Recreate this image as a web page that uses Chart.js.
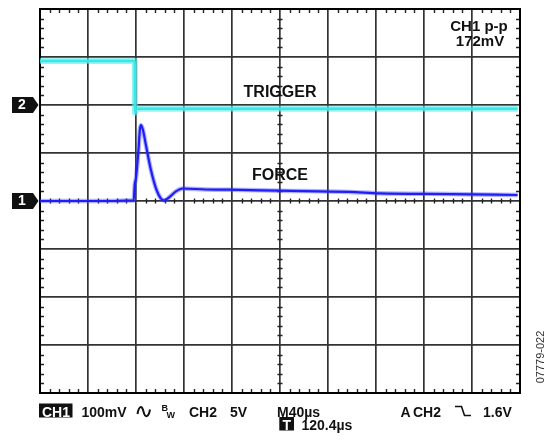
<!DOCTYPE html>
<html>
<head>
<meta charset="utf-8">
<script src="https://cdn.jsdelivr.net/npm/chart.js@4.4.1/dist/chart.umd.min.js"></script>
<style>
  html, body { margin: 0; padding: 0; background: #fff; }
  canvas { display: block; }
</style>
</head>
<body>
<canvas id="scope" width="550" height="442"></canvas>
<script>
// DATA (time in us from trigger, CH1 in mV, CH2 in V)

var ch1Time = [-80, -60, -40, -20, -8, -2, -1, 0, 2, 3.3, 4.2, 5.8, 8.3, 12.5, 16.7, 20.8, 23.6, 27.8, 33.3, 38.9, 58, 78, 120, 178, 203, 262, 318];
var ch1Force = [0, 0, 0, 0, 1, 1, 35, 48, 105, 150, 158, 148, 116, 64, 26, 5, 1.5, 8, 20, 26, 24, 23.5, 21.5, 19, 16, 14.5, 12.5];

var ch2Time = [-80, -1, -0.9, 0.5, 318];
var ch2Trigger = [4.58, 4.58, -0.8, -0.39, -0.39];

var timeTicks = [-80, 320, 40];   // min, max, step (M40us per div)
var ch1Ticks = [-400, 400, 100];  // 100mV per div
var ch2Range = [-30, 10];         // 5V per div, ground 2 div above centre

function pts(xs, ys) {
  return xs.map(function(x, i){ return {x: x, y: ys[i]}; });
}

var FONT = '"Liberation Sans", Arial, Helvetica, sans-serif';

// frame, minor ticks, channel markers and readouts
var scopeDecor = {
  id: 'scopeDecor',
  beforeDatasetsDraw: function(chart) {
    var c = chart.ctx, a = chart.chartArea;
    var sx = chart.scales.x, sy = chart.scales.y;
    var cx = sx.getPixelForValue(120), cy = sy.getPixelForValue(0);
    c.save();
    c.strokeStyle = '#222';
    c.lineWidth = 1.4;
    c.beginPath();
    for (var t = timeTicks[0]; t <= timeTicks[1]; t += 8) {
      if (t % 40 === 0) continue;
      var px = Math.round(sx.getPixelForValue(t)) + 0.5;
      c.moveTo(px, a.top); c.lineTo(px, a.top + 4);
      c.moveTo(px, a.bottom); c.lineTo(px, a.bottom - 4);
      c.moveTo(px, cy - 2.5); c.lineTo(px, cy + 2.5);
    }
    for (var v = ch1Ticks[0]; v <= ch1Ticks[1]; v += 20) {
      if (v % 100 === 0) continue;
      var py = Math.round(sy.getPixelForValue(v)) + 0.5;
      c.moveTo(a.left, py); c.lineTo(a.left + 4, py);
      c.moveTo(a.right, py); c.lineTo(a.right - 4, py);
      c.moveTo(cx - 2.5, py); c.lineTo(cx + 2.5, py);
    }
    c.stroke();
    c.strokeStyle = '#000';
    c.lineWidth = 2;
    c.strokeRect(a.left, a.top, a.right - a.left, a.bottom - a.top);
    c.restore();
  },
  afterDraw: function(chart) {
    var c = chart.ctx;
    var y1 = chart.scales.y.getPixelForValue(0);
    var y2 = chart.scales.y2.getPixelForValue(0);
    c.save();

    // ground markers
    [[y2, '2'], [y1, '1']].forEach(function(m) {
      var y = m[0];
      c.fillStyle = '#111';
      c.beginPath();
      c.moveTo(12, y - 8); c.lineTo(33, y - 8); c.lineTo(38.5, y);
      c.lineTo(33, y + 8); c.lineTo(12, y + 8); c.closePath();
      c.fill();
      c.fillStyle = '#fff';
      c.font = 'bold 14px ' + FONT;
      c.textAlign = 'center'; c.textBaseline = 'middle';
      c.fillText(m[1], 22, y + 0.5);
    });

    // trace labels
    c.fillStyle = '#111';
    c.textAlign = 'center'; c.textBaseline = 'alphabetic';
    c.font = 'bold 16px ' + FONT;
    c.fillText('TRIGGER', 280, 96.5);
    c.fillText('FORCE', 280, 180);
    c.font = 'bold 15px ' + FONT;
    c.fillText('CH1 p-p', 479, 30.5);
    c.fillText('172mV', 480, 46);

    // status line
    c.textAlign = 'left';
    c.fillRect(39, 403.5, 33.5, 14);
    c.fillRect(279.3, 417, 14.7, 13.5);
    c.font = 'bold 14px ' + FONT;
    c.fillStyle = '#fff';
    c.textAlign = 'center';
    c.fillText('CH1', 56, 416.5);
    c.fillText('T', 286.7, 429.5);
    c.fillStyle = '#111';
    c.textAlign = 'left';
    c.fillText('100mV', 81.5, 416.5);
    c.fillText('CH2', 189, 416.5);
    c.fillText('5V', 230, 416.5);
    c.fillText('M40\u00b5s', 277, 416.5);
    c.fillText('A', 400.5, 416.5);
    c.fillText('CH2', 413, 416.5);
    c.fillText('1.6V', 483, 416.5);
    c.fillText('120.4\u00b5s', 301.5, 430);
    c.font = 'bold 9px ' + FONT;
    c.fillText('B', 161.5, 411);
    c.fillText('W', 166.5, 417.5);

    c.strokeStyle = '#111';
    c.lineWidth = 2;
    // AC coupling wave
    c.beginPath();
    c.moveTo(137.5, 414);
    c.bezierCurveTo(139, 405, 142, 405.5, 143.5, 411.5);
    c.bezierCurveTo(145, 418, 148.5, 418, 150, 409.5);
    c.stroke();
    // falling edge symbol
    c.lineWidth = 1.6;
    c.beginPath();
    c.moveTo(455, 406.5); c.lineTo(461.5, 406.5);
    c.lineTo(464.5, 415.5); c.lineTo(471, 415.5);
    c.stroke();

    // figure code
    c.translate(541, 357);
    c.rotate(-Math.PI / 2);
    c.font = '11px ' + FONT;
    c.fillStyle = '#333';
    c.textAlign = 'center'; c.textBaseline = 'middle';
    c.fillText('07779-022', 0, 0);
    c.restore();
  }
};

var gridStyle = { color: '#333', lineWidth: 1.7, drawTicks: false };

var chart = new Chart(document.getElementById('scope').getContext('2d'), {
  type: 'line',
  data: {
    datasets: [
      { label: 'TRIGGER band', data: pts(ch2Time, ch2Trigger), yAxisID: 'y2',
        borderColor: 'rgba(80,235,235,0.6)', borderWidth: 6 },
      { label: 'TRIGGER', data: pts(ch2Time, ch2Trigger), yAxisID: 'y2',
        borderColor: '#18e2e2', borderWidth: 2.5 },
      { label: 'FORCE band', data: pts(ch1Time, ch1Force), yAxisID: 'y',
        borderColor: 'rgba(60,60,255,0.4)', borderWidth: 4.5 },
      { label: 'FORCE', data: pts(ch1Time, ch1Force), yAxisID: 'y',
        borderColor: '#0a0aee', borderWidth: 2.2 }
    ]
  },
  options: {
    responsive: false,
    animation: false,
    layout: { padding: { left: 40, top: 9, right: 30, bottom: 49 } },
    elements: { point: { radius: 0 }, line: { cubicInterpolationMode: 'monotone', borderJoinStyle: 'round' } },
    plugins: { legend: { display: false }, tooltip: { enabled: false } },
    scales: {
      x: { type: 'linear', min: timeTicks[0], max: timeTicks[1],
           ticks: { display: false, stepSize: timeTicks[2] },
           grid: gridStyle, border: { display: false } },
      y: { type: 'linear', min: ch1Ticks[0], max: ch1Ticks[1],
           ticks: { display: false, stepSize: ch1Ticks[2] },
           grid: gridStyle, border: { display: false } },
      y2: { type: 'linear', min: ch2Range[0], max: ch2Range[1], display: false }
    }
  },
  plugins: [scopeDecor]
});
</script>
</body>
</html>
